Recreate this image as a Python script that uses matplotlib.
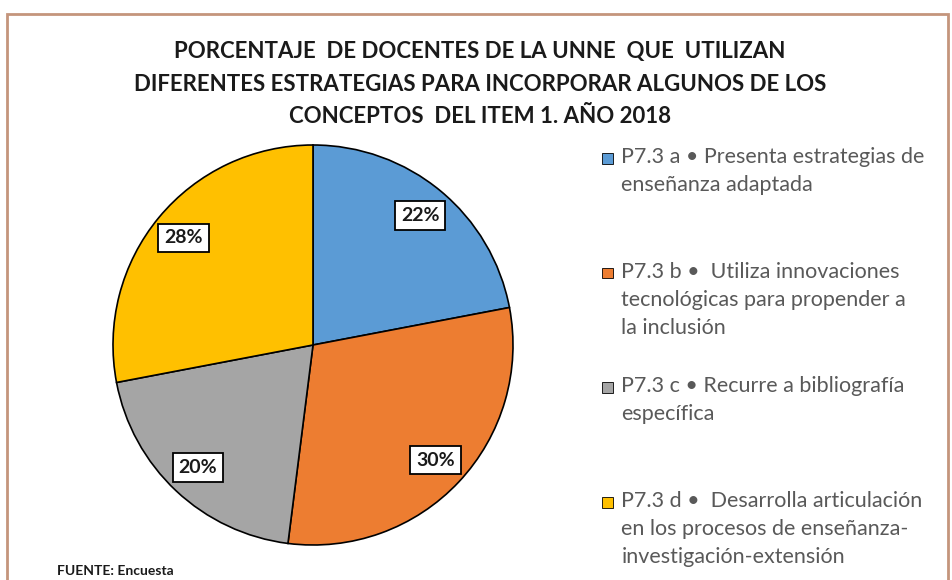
import matplotlib.pyplot as plt
from matplotlib.patches import Rectangle
from matplotlib.legend_handler import HandlerPatch

plt.rcParams['font.family'] = ['Lato', 'DejaVu Sans']

# datos del grafico
titulo = ("PORCENTAJE  DE DOCENTES DE LA UNNE  QUE  UTILIZAN\n"
          "DIFERENTES ESTRATEGIAS PARA INCORPORAR ALGUNOS DE LOS\n"
          "CONCEPTOS  DEL ITEM 1. AÑO 2018")
categorias = [
    "P7.3 a • Presenta estrategias de\nenseñanza adaptada",
    "P7.3 b •  Utiliza innovaciones\ntecnológicas para propender a\nla inclusión",
    "P7.3 c • Recurre a bibliografía\nespecífica",
    "P7.3 d •  Desarrolla articulación\nen los procesos de enseñanza-\ninvestigación-extensión",
]
porcentajes = [22, 30, 20, 28]
colores = ["#5B9BD5", "#ED7D31", "#A5A5A5", "#FFC000"]
fuente = "FUENTE: Encuesta"

dpi = 100
fig = plt.figure(figsize=(9.53, 5.8), dpi=dpi)
fig.patch.set_facecolor('white')

# marco del grafico
fig.add_artist(Rectangle((7 / 953, -0.1), 941 / 953, 1.1 - 14 / 580,
                         transform=fig.transFigure, fill=False,
                         edgecolor='#C4957C', linewidth=2))

# torta
ax = fig.add_axes([113 / 953, 35 / 580, 400 / 953, 400 / 580])
cunas, _, etiquetas = ax.pie(
    porcentajes, colors=colores, startangle=90, counterclock=False,
    autopct=lambda p: f"{p:.0f}%", pctdistance=0.84,
    wedgeprops=dict(edgecolor='black', linewidth=1.2))
ax.set_xlim(-1, 1)
ax.set_ylim(-1, 1)
for t in etiquetas:
    t.set_fontsize(14)
    t.set_fontweight('bold')
    t.set_color('#1a1a1a')
    t.set_bbox(dict(boxstyle='square,pad=0.3', facecolor='white',
                    edgecolor='black', linewidth=1.3))

# titulo
fig.text(480 / 953, 1 - 41 / 580, titulo, ha='center', va='top',
         fontsize=16, fontweight='bold', color='#1a1a1a', linespacing=1.68)

# leyenda: cada entrada ocupa tres renglones, clave en el primero
renglon_px = 27
salto = renglon_px * 72 / dpi


def clave(legend, orig_handle, xdescent, ydescent, width, height, fontsize):
    lado = 0.5 * fontsize
    return Rectangle((-xdescent, -ydescent + (height - lado) / 2 + salto),
                     lado, lado)


textos = [c + "\n" * (2 - c.count("\n")) for c in categorias]
leg = fig.legend(cunas, textos, loc='upper left',
                 bbox_to_anchor=(602 / 953, 1 - 147 / 580),
                 frameon=False, fontsize=15.5, borderpad=0, borderaxespad=0,
                 handlelength=0.5, handleheight=0.5, handletextpad=0.4,
                 labelspacing=1.8,
                 handler_map={w: HandlerPatch(patch_func=clave) for w in cunas})
for t in leg.get_texts():
    t.set_color('#595959')
    t.set_linespacing(1.5)
for h in leg.legend_handles:
    h.set_linewidth(0.6)

# fuente
fig.text(57 / 953, 1 - 575 / 580, fuente, ha='left', va='baseline',
         fontsize=10, fontweight='bold', color='#1a1a1a')

fig.savefig('out.png', dpi=dpi)
